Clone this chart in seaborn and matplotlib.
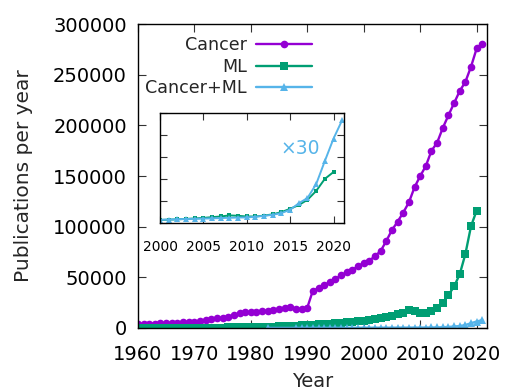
import numpy as np
import pandas as pd
import matplotlib
matplotlib.use("Agg")
import matplotlib.pyplot as plt
import seaborn as sns

# ---- data ----
cancer_years = list(range(1960, 2022))
cancer_vals = [3500, 3800, 4000, 4200, 4500, 4800, 5000, 5300, 5600, 6000,
               6300, 7000, 7800, 8700, 9500, 10200, 11000, 13000, 14500, 15500,
               15500, 16000, 16500, 17000, 17500, 18500, 19500, 21000, 19000, 18500,
               20000, 37000, 39000, 42000, 45500, 48500, 52000, 55000, 57500, 61000,
               64000, 66500, 71000, 76000, 86000, 96700, 105000, 114000, 124000, 139000,
               150000, 160000, 175000, 183000, 197500, 210000, 222000, 234000, 243000, 258000,
               276000, 280000]

ml_years = list(range(1960, 2021))
ml_vals = [100, 100, 120, 130, 150, 160, 180, 200, 220, 250,
           280, 300, 330, 360, 400, 450, 500, 560, 620, 700,
           800, 900, 1000, 1100, 1300, 1500, 1800, 2000, 2300, 2600,
           3000, 3300, 3700, 4000, 4400, 4800, 5200, 5700, 6100, 6600,
           7000, 7800, 8500, 9500, 10500, 11800, 13500, 15000, 17500, 16500,
           15000, 15000, 17000, 20000, 25000, 32500, 41000, 53000, 73000, 100500,
           116000]

cml_years = [1983, 1988, 1989] + list(range(1990, 2022))
cml_vals = [30, 50, 60,
            80, 90, 100, 110, 120, 140, 150, 170, 190, 220,
            250, 270, 290, 310, 320, 340, 360, 380, 400, 420,
            430, 480, 550, 630, 760, 1010, 1500, 1900, 2950, 4700,
            6400, 7800]

inset_scale = 30
inset_start = 2000

C_CANCER = "#9400d3"
C_ML = "#009e73"
C_CML = "#56b4e9"

sns.set_style("ticks")
plt.rcParams["font.family"] = ["DejaVu Sans"]
plt.rcParams["xtick.direction"] = "in"
plt.rcParams["ytick.direction"] = "in"

fig = plt.figure(figsize=(5.05, 3.9), dpi=100)
ax = fig.add_axes([0.273, 0.159, 0.691, 0.779])

df_c = pd.DataFrame({"year": cancer_years, "n": cancer_vals})
df_m = pd.DataFrame({"year": ml_years, "n": ml_vals})
df_cm = pd.DataFrame({"year": cml_years, "n": cml_vals})

lw = 1.7
sns.lineplot(data=df_c, x="year", y="n", ax=ax, color=C_CANCER, marker="o",
             markersize=5.5, markeredgewidth=0, linewidth=lw, label="Cancer")
sns.lineplot(data=df_m, x="year", y="n", ax=ax, color=C_ML, marker="s",
             markersize=5.5, markeredgewidth=0, linewidth=lw, label="ML")
sns.lineplot(data=df_cm, x="year", y="n", ax=ax, color=C_CML, marker="^",
             markersize=5.5, markeredgewidth=0, linewidth=lw, label="Cancer+ML")

ax.set_xlim(1960, 2021.8)
ax.set_ylim(0, 300000)
ax.set_xticks(range(1960, 2021, 10))
ax.set_yticks(range(0, 300001, 50000))
ax.tick_params(axis="both", which="both", direction="in", top=True, right=True,
               labelsize=14, length=6, width=0.8, colors="#333333", labelcolor="black")
ax.tick_params(axis="x", pad=12)
ax.tick_params(axis="y", pad=8)
for s in ax.spines.values():
    s.set_visible(True)
    s.set_color("black")
    s.set_linewidth(1.0)
ax.set_xlabel("Year", fontsize=14, labelpad=6)
ax.set_ylabel("Publications per year", fontsize=14.5, labelpad=14)

leg = ax.legend(loc="upper right", bbox_to_anchor=(0.535, 1.0), frameon=False,
                markerfirst=False, fontsize=12.6, handlelength=3.2, handletextpad=0.55,
                labelspacing=0.2, borderpad=0.2, numpoints=1)

# ---- inset ----
ins = fig.add_axes([0.317, 0.428, 0.364, 0.282])
df_mi = df_m[df_m["year"] >= inset_start]
df_cmi = df_cm[df_cm["year"] >= inset_start].copy()
df_cmi["n"] = df_cmi["n"] * inset_scale
sns.lineplot(data=df_mi, x="year", y="n", ax=ins, color=C_ML, marker="s",
             markersize=3.5, markeredgewidth=0, linewidth=1.4)
sns.lineplot(data=df_cmi, x="year", y="n", ax=ins, color=C_CML, marker="^",
             markersize=4, markeredgewidth=0, linewidth=1.4)
ins.set_xlim(2000, 2021.2)
ins.set_ylim(0, 250000)
ins.set_xticks(range(2000, 2021, 5))
ins.set_yticks(range(0, 250001, 50000))
ins.set_yticklabels([])
ins.set_xlabel("")
ins.set_ylabel("")
ins.tick_params(axis="both", direction="in", top=True, right=True, labelsize=10,
                length=5, width=0.8, colors="#333333", labelcolor="black", pad=12)
for s in ins.spines.values():
    s.set_visible(True)
    s.set_color("black")
    s.set_linewidth(1.0)
ins.text(2016.1, 170000, "×30", color=C_CML, fontsize=13.5, ha="center", va="center")

fig.savefig("out.png", dpi=100)
